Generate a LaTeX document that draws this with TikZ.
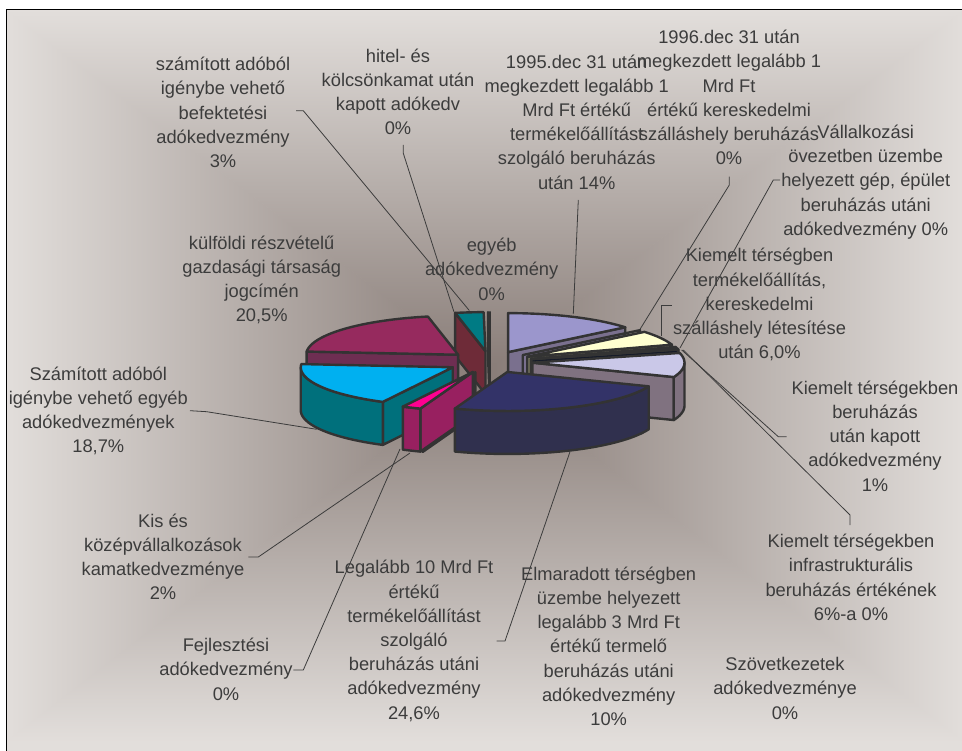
\documentclass[tikz,border=0pt]{standalone}
\usepackage{fontspec}
\setmainfont{Liberation Sans}
\usetikzlibrary{calc}
\definecolor{bgdark}{RGB}{136,124,119}
\definecolor{bglight}{RGB}{226,222,219}
\definecolor{pieedge}{RGB}{51,51,51}
\definecolor{txt}{RGB}{60,60,60}
\definecolor{lavTop}{RGB}{155,150,204}
\definecolor{lavSide}{RGB}{122,112,142}
\definecolor{yelTop}{RGB}{255,255,208}
\definecolor{yelSide}{RGB}{128,126,100}
\definecolor{oneTop}{RGB}{30,48,64}
\definecolor{oneSide}{RGB}{20,25,40}
\definecolor{llTop}{RGB}{202,200,232}
\definecolor{llSide}{RGB}{128,114,128}
\definecolor{navTop}{RGB}{51,51,104}
\definecolor{navSide}{RGB}{48,48,78}
\definecolor{pinkTop}{RGB}{255,0,144}
\definecolor{pinkSide}{RGB}{152,32,96}
\definecolor{cyTop}{RGB}{0,176,240}
\definecolor{cySide}{RGB}{0,112,124}
\definecolor{marTop}{RGB}{150,42,94}
\definecolor{marSide}{RGB}{110,46,82}
\definecolor{tealTop}{RGB}{0,123,132}
\definecolor{tealSide}{RGB}{110,43,56}
\def\cx{490}\def\cy{362}\def\rx{152}\def\ry{39}\def\hh{43}\def\ee{0.28}
\tikzset{
  pieline/.style={draw=pieedge, line width=2.4pt, line join=round},
  lbl/.style={font=\fontsize{18.3}{24.2}\selectfont, text=txt, align=center, inner sep=0pt},
  leader/.style={draw=txt, line width=0.8pt},
  frameline/.style={draw=black, line width=1pt}
}
\newcommand\pieslice[4]{%
  \pgfmathsetmacro\bis{(#1+#2)/2}%
  \pgfmathsetmacro\apx{\cx+\ee*\rx*sin(\bis)}%
  \pgfmathsetmacro\apy{\cy-\ee*\ry*cos(\bis)}%
  \pgfmathtruncatemacro\visA{(sin(#1) < -0.01) ? 1 : 0}%
  \ifnum\visA=1
    \filldraw[pieline, fill=#4] (\apx,\apy) -- ({\apx+\rx*sin(#1)},{\apy-\ry*cos(#1)}) -- ({\apx+\rx*sin(#1)},{\apy-\ry*cos(#1)+\hh}) -- (\apx,{\apy+\hh}) -- cycle;
  \fi
  \pgfmathtruncatemacro\visB{(sin(#2) > 0.01) ? 1 : 0}%
  \ifnum\visB=1
    \filldraw[pieline, fill=#4] (\apx,\apy) -- ({\apx+\rx*sin(#2)},{\apy-\ry*cos(#2)}) -- ({\apx+\rx*sin(#2)},{\apy-\ry*cos(#2)+\hh}) -- (\apx,{\apy+\hh}) -- cycle;
  \fi
  \pgfmathsetmacro\sliceA{max(#1,90)}%
  \pgfmathsetmacro\sliceB{min(#2,270)}%
  \pgfmathtruncatemacro\visC{(\sliceB > \sliceA+0.01) ? 1 : 0}%
  \ifnum\visC=1
    \filldraw[pieline, fill=#4] plot[domain=\sliceA:\sliceB, samples=25, variable=\t] ({\apx+\rx*sin(\t)},{\apy-\ry*cos(\t)}) -- plot[domain=\sliceB:\sliceA, samples=25, variable=\t] ({\apx+\rx*sin(\t)},{\apy-\ry*cos(\t)+\hh}) -- cycle;
  \fi
  \filldraw[pieline, fill=#3] (\apx,\apy) -- plot[domain=#1:#2, samples=30, variable=\t] ({\apx+\rx*sin(\t)},{\apy-\ry*cos(\t)}) -- cycle;
}
\newcommand\zeroslice[1]{%
  \pgfmathsetmacro\apx{\cx+\ee*\rx*sin(#1)}%
  \pgfmathsetmacro\apy{\cy-\ee*\ry*cos(#1)}%
  \draw[pieline] (\apx,\apy) -- ({\apx+\rx*sin(#1)},{\apy-\ry*cos(#1)}) -- ({\apx+\rx*sin(#1)},{\apy-\ry*cos(#1)+\hh}) -- (\apx,{\apy+\hh}) -- cycle;
}
\begin{document}
\begin{tikzpicture}[x=1pt,y=-1pt]
\useasboundingbox (0,0) rectangle (962,751);
\fill[white] (0,0) rectangle (962,751);
% rectangular "from centre" gradient, built from four triangles
\coordinate (gC) at (485,372);
\coordinate (gTL) at (6,10);
\coordinate (gTR) at (964,10);
\coordinate (gBR) at (964,742);
\coordinate (gBL) at (6,742);
\begin{scope}
  \clip (6,10) rectangle (962,751);
  \fill[bglight] (6,10) rectangle (964,760);
  \shade[left color=bglight, right color=bgdark] ($(gTL)+(-0.6,-0.8)$) -- ($(gC)+(0.8,0)$) -- ($(gBL)+(-0.6,0.8)$) -- cycle;
  \shade[left color=bgdark, right color=bglight] ($(gTR)+(0.6,-0.8)$) -- ($(gC)+(-0.8,0)$) -- ($(gBR)+(0.6,0.8)$) -- cycle;
  \shade[top color=bglight, bottom color=bgdark] (gTL) -- (gC) -- (gTR) -- cycle;
  \shade[top color=bgdark, bottom color=bglight] (gBL) -- (gC) -- (gBR) -- cycle;
\end{scope}
\draw[frameline] (6,751) -- (6,10) -- (962,10);

% pie, back to front
\zeroslice{360}
\zeroslice{359.4}
\pieslice{348.5}{359.3}{tealTop}{tealSide}
\pieslice{0}{50.4}{lavTop}{lavSide}
\zeroslice{50.4}
\pieslice{274.7}{348.5}{marTop}{marSide}
\pieslice{50.4}{72}{yelTop}{yelSide}
\pieslice{72}{75.6}{oneTop}{oneSide}
\zeroslice{75.6}
\pieslice{75.6}{111.6}{llTop}{llSide}
\pieslice{207.4}{274.7}{cyTop}{cySide}
\zeroslice{200.2}
\pieslice{200.2}{207.4}{pinkTop}{pinkSide}
\pieslice{111.6}{200.2}{navTop}{navSide}

% label nodes
\node[lbl] (lBefekt) at (223,112.5) {számított adóból\\igénybe vehető\\befektetési\\adókedvezmény\\3\%};
\node[lbl] (lHitel) at (398,91.7) {hitel- és\\kölcsönkamat után\\kapott adókedv\\0\%};
\node[lbl] (l1995) at (576.7,122) {1995.dec 31 után\\megkezdett legalább 1\\Mrd Ft értékű\\termékelőállítást\\szolgáló beruházás\\után 14\%};
\node[lbl] (l1996) at (729,97.5) {1996.dec 31 után\\megkezdett legalább 1\\Mrd Ft\\értékű kereskedelmi\\szálláshely beruházás\\0\%};
\node[lbl] (lVall) at (865.7,182) {Vállalkozási\\övezetben üzembe\\helyezett gép, épület\\beruházás utáni\\adókedvezmény 0\%};
\node[lbl] (lEgyeb) at (491.7,269.3) {egyéb\\adókedvezmény\\0\%};
\node[lbl] (lKulf) at (261.7,280) {külföldi részvételű\\gazdasági társaság\\jogcímén\\20,5\%};
\node[lbl] (lSzamE) at (98.3,411) {Számított adóból\\igénybe vehető egyéb\\adókedvezmények\\18,7\%};
\node[lbl] (lKis) at (163,556.7) {Kis és\\középvállalkozások\\kamatkedvezménye\\2\%};
\node[lbl] (lFejl) at (226,669.3) {Fejlesztési\\adókedvezmény\\0\%};
\node[lbl] (lLeg) at (414,641) {Legalább 10 Mrd Ft\\értékű\\termékelőállítást\\szolgáló\\beruházás utáni\\adókedvezmény\\24,6\%};
\node[lbl] (lElm) at (608.7,646.3) {Elmaradott térségben\\üzembe helyezett\\legalább 3 Mrd Ft\\értékű termelő\\beruházás utáni\\adókedvezmény\\10\%};
\node[lbl] (lSzov) at (785,688.3) {Szövetkezetek\\adókedvezménye\\0\%};
\node[lbl] (lInfra) at (851,577.3) {Kiemelt térségekben\\infrastrukturális\\beruházás értékének\\6\%-a 0\%};
\node[lbl] (lKiem1) at (875,436) {Kiemelt térségekben\\beruházás\\után kapott\\adókedvezmény\\1\%};
\node[lbl] (lKiem6) at (759.5,304.7) {Kiemelt térségben\\termékelőállítás,\\kereskedelmi\\szálláshely létesítése\\után 6,0\%};

% leader coordinates
\coordinate (bA) at (296,110.7);   \coordinate (bB) at (303.3,110.7); \coordinate (bE) at (469.3,310.5);
\coordinate (hA) at (403.3,145);   \coordinate (hB) at (403.3,153.3); \coordinate (hE) at (454,312);
\coordinate (aA) at (578.3,200);   \coordinate (aE) at (573.3,314);
\coordinate (dA) at (729.3,176.7); \coordinate (dB) at (729.3,185);   \coordinate (dE) at (640,329.3);
\coordinate (vA) at (780,180);     \coordinate (vB) at (773.3,180);   \coordinate (vE) at (680,348);
\coordinate (yA) at (671.7,305);   \coordinate (yB) at (661.7,305);   \coordinate (yE) at (661.7,336);
\coordinate (kA) at (786.7,436.7); \coordinate (kB) at (778.3,436.7); \coordinate (kE) at (681.7,350);
\coordinate (iA) at (850,525);     \coordinate (iB) at (850,515);     \coordinate (iE) at (683.3,350);
\coordinate (gA) at (496.7,641);   \coordinate (gB) at (505,641);     \coordinate (gE) at (570,451.7);
\coordinate (fA) at (293.3,670);   \coordinate (fB) at (303.3,670);   \coordinate (fE) at (400,449);
\coordinate (sA) at (248.3,557);   \coordinate (sB) at (258.3,557);   \coordinate (sE) at (410,453);
\coordinate (eA) at (190,410.7);   \coordinate (eB) at (206.7,411.7); \coordinate (eE) at (316.7,429.3);

\draw[leader] (bA) -- (bB) -- (bE);
\draw[leader] (hA) -- (hB) -- (hE);
\draw[leader] (aA) -- (aE);
\draw[leader] (dA) -- (dB) -- (dE);
\draw[leader] (vA) -- (vB) -- (vE);
\draw[leader] (yA) -- (yB) -- (yE);
\draw[leader] (kA) -- (kB) -- (kE);
\draw[leader] (iA) -- (iB) -- (iE);
\draw[leader] (gA) -- (gB) -- (gE);
\draw[leader] (fA) -- (fB) -- (fE);
\draw[leader] (sA) -- (sB) -- (sE);
\draw[leader] (eA) -- (eB) -- (eE);
\end{tikzpicture}
\end{document}
